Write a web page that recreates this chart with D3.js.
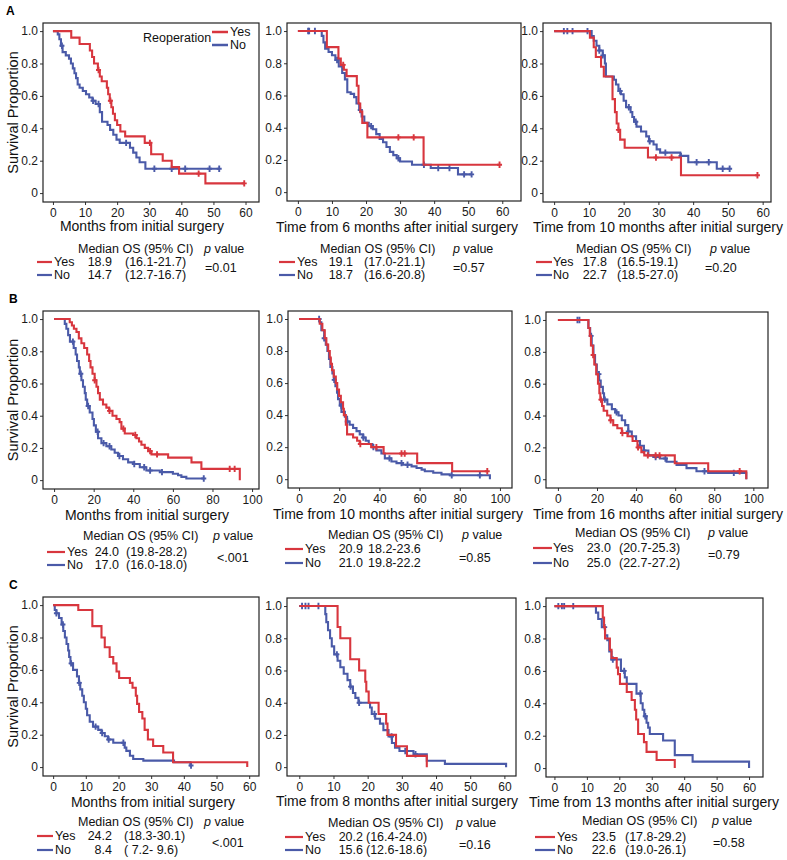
<!DOCTYPE html>
<html>
<head>
<meta charset="utf-8">
<script src="https://cdn.jsdelivr.net/npm/d3@7"></script>
<style>
  body { margin: 0; background: #fff; }
  svg { font-family: Arial, "Liberation Sans", sans-serif; }
</style>
</head>
<body>
<svg id="chart" width="787" height="860"></svg>
<script>
// ---- data: KM steps as [time, survival after the drop] ----
const yTicks = [0, 0.2, 0.4, 0.6, 0.8, 1.0]
const yTickLabels = ['0', '0.2', '0.4', '0.6', '0.8', '1.0']
const xTicks60 = [0, 10, 20, 30, 40, 50, 60]
const xTicks100 = [0, 20, 40, 60, 80, 100]

// A1
const a1Yes = [[5.7,0.96],[8.3,0.92],[11.5,0.88],[12.2,0.84],[12.8,0.80],[14,0.76],[14.6,0.72],[15.2,0.69],[16.8,0.65],[17.2,0.61],[17.7,0.57],[18.2,0.53],[18.7,0.49],[19.3,0.45],[20,0.42],[21,0.38],[22.5,0.35],[28.6,0.31],[30.6,0.24],[34.2,0.20],[37,0.16],[39.3,0.12],[47.5,0.06]]
const a1YesEnd = 59.6, a1YesCens = [14.2, 17.9, 30.2, 45.4, 59.6]
const a1No = [[1.5,0.98],[2,0.95],[2.5,0.91],[3,0.87],[4,0.85],[5,0.83],[5.6,0.80],[6.2,0.77],[6.7,0.74],[7.2,0.71],[7.7,0.67],[8.3,0.65],[9.3,0.63],[10.3,0.61],[11.3,0.59],[12.3,0.57],[13.3,0.55],[14.6,0.50],[15.3,0.44],[17,0.42],[17.8,0.39],[18.8,0.36],[19.8,0.33],[20.8,0.31],[24,0.28],[25,0.25],[26,0.22],[27,0.19],[28.8,0.15]]
const a1NoEnd = 51.8, a1NoCens = [2.8, 12.5, 14.2, 22.8, 31.6, 37, 41.2, 48.8, 51.8]
// A2
const a2Yes = [[8.5,0.90],[11.9,0.83],[12.6,0.79],[13.5,0.76],[14.3,0.72],[17.3,0.66],[17.8,0.55],[18.3,0.50],[18.9,0.43],[20.4,0.34],[36.9,0.17]]
const a2YesEnd = 59.2, a2YesCens = [13.3, 29.5, 34, 59.2]
const a2No = [[7,0.97],[7.5,0.93],[8,0.89],[9,0.87],[10,0.85],[11,0.82],[12,0.78],[13,0.74],[13.8,0.70],[14.5,0.62],[15.5,0.61],[16.5,0.59],[17.2,0.55],[18,0.51],[18.7,0.47],[19.5,0.43],[20.8,0.41],[22,0.39],[23,0.36],[24,0.33],[25,0.31],[26,0.28],[27,0.25],[28,0.23],[29,0.21],[30,0.19],[33.5,0.17],[39,0.15],[47,0.11]]
const a2NoEnd = 51, a2NoCens = [3, 3.3, 5, 11.5, 18.3, 21.5, 29.5, 37, 41.2, 44.5, 48.8, 51]
// A3
const a3Yes = [[10.3,0.96],[11.4,0.90],[12,0.84],[13.5,0.78],[14.3,0.72],[16.8,0.58],[17.5,0.50],[18,0.43],[18.5,0.39],[19,0.33],[20.3,0.28],[27,0.22],[36.5,0.11]]
const a3YesEnd = 58.5, a3YesCens = [18.5, 29.3, 33.8, 58.5]
const a3No = [[10.8,0.97],[11.4,0.94],[12.2,0.91],[13,0.88],[14,0.85],[14.6,0.80],[14.9,0.72],[17.2,0.70],[17.8,0.67],[18.5,0.63],[19.2,0.61],[20,0.57],[20.7,0.53],[22,0.50],[22.5,0.47],[23,0.44],[23.7,0.41],[25,0.38],[26.5,0.35],[27.3,0.32],[28.6,0.30],[29.5,0.27],[30.5,0.25],[36.3,0.23],[38.6,0.19],[46.8,0.15]]
const a3NoEnd = 50.5, a3NoCens = [2.8, 3.8, 5.3, 9.6, 13, 14, 19, 21.5, 23.5, 27.5, 32, 36.5, 41, 44.5, 48.5, 50.5]
// B1
const b1Yes = [[7.9,0.98],[9,0.96],[10,0.94],[11.3,0.92],[12.5,0.88],[13.8,0.85],[15.2,0.82],[16.7,0.78],[17.7,0.74],[18.4,0.70],[19.4,0.66],[20.5,0.62],[21.4,0.58],[22.2,0.54],[23.1,0.50],[24.7,0.47],[26.4,0.45],[27.8,0.43],[29.5,0.40],[31.5,0.38],[33.1,0.36],[34,0.32],[35.7,0.29],[39.9,0.28],[41.6,0.26],[42.9,0.24],[44.1,0.22],[45.8,0.20],[47.5,0.18],[49.2,0.16],[57.6,0.14],[69.4,0.11],[74.4,0.07],[93.8,0]]
const b1YesEnd = 93.8, b1YesCens = [20.5, 28, 35, 41, 48.5, 52, 88.7, 91.2]
const b1No = [[5.4,0.97],[6.2,0.94],[7.1,0.90],[8,0.86],[9.9,0.82],[10.9,0.78],[11.6,0.74],[12.5,0.70],[13,0.66],[13.8,0.62],[14.6,0.58],[15.5,0.54],[16,0.50],[16.7,0.46],[18,0.42],[19.4,0.38],[20.1,0.34],[21.1,0.30],[22.2,0.26],[23.9,0.23],[26.4,0.21],[28.9,0.19],[30.6,0.17],[32.3,0.15],[34.8,0.13],[37.4,0.11],[39.9,0.10],[43.3,0.08],[46.6,0.06],[53.4,0.05],[60,0.04],[62.6,0.03],[64.3,0.02],[66.8,0.01]]
const b1NoEnd = 75.6, b1NoCens = [9.5, 13.5, 17.2, 22, 25, 28, 33, 40.5, 45.5, 48.5, 54.5, 75.6]
// B2
const b2Yes = [[10.3,0.97],[11.6,0.93],[12.8,0.88],[13.6,0.84],[14.5,0.80],[15.3,0.76],[15.8,0.72],[16.4,0.68],[17.3,0.64],[18.3,0.60],[19,0.56],[19.9,0.52],[20.8,0.48],[21.9,0.44],[22.3,0.40],[23.3,0.34],[23.9,0.28],[26.9,0.26],[28.9,0.24],[30.2,0.22],[35.9,0.20],[42.1,0.16],[58.8,0.10],[76.2,0.05]]
const b2YesEnd = 93.7, b2YesCens = [30.5, 38.5, 51, 52.6, 93.7]
const b2No = [[10.3,0.98],[11.1,0.93],[12.5,0.88],[13.3,0.84],[14.1,0.80],[14.9,0.75],[15.6,0.70],[16.6,0.66],[17.3,0.62],[18.1,0.58],[18.9,0.54],[19.4,0.50],[20.3,0.46],[21.1,0.42],[22.8,0.39],[23.9,0.36],[25.2,0.34],[26.9,0.32],[28.6,0.30],[30.2,0.28],[31.9,0.26],[33.2,0.24],[34.7,0.22],[36.5,0.20],[38.5,0.18],[41,0.16],[42.7,0.13],[46,0.11],[48.5,0.10],[51.8,0.09],[56,0.08],[58.5,0.07],[61,0.06],[62.6,0.05],[66.8,0.04],[70.9,0.03],[75,0.025],[95,0]]
const b2NoEnd = 95, b2NoCens = [10, 12.5, 17.5, 21, 24, 32, 37, 45, 51, 54, 76, 90]
// B3
const b3Yes = [[15.6,0.95],[16.3,0.90],[16.9,0.84],[17.9,0.78],[18.6,0.72],[19.6,0.66],[20.5,0.60],[21.2,0.54],[21.7,0.50],[22.6,0.46],[23.4,0.43],[25.2,0.40],[26.9,0.37],[28.3,0.34],[30.4,0.32],[32.7,0.29],[35.6,0.27],[38.2,0.24],[40.7,0.20],[42.7,0.17],[44.2,0.15],[59.8,0.10],[76.9,0.05],[96.4,0]]
const b3YesEnd = 96.4, b3YesCens = [18, 22, 27, 33, 41, 46, 50, 52, 93]
const b3No = [[15.6,0.95],[16.5,0.90],[17.3,0.84],[18.2,0.78],[19,0.72],[19.9,0.66],[21.1,0.62],[21.9,0.58],[23,0.54],[23.6,0.50],[25.3,0.47],[27.6,0.44],[29.3,0.42],[31,0.40],[32.7,0.37],[34.4,0.34],[36,0.30],[37.8,0.27],[40,0.24],[42,0.21],[44,0.18],[46.3,0.15],[48.8,0.14],[52.2,0.13],[55.6,0.11],[60.7,0.09],[65.8,0.07],[70.9,0.05],[76.9,0.04],[96.4,0]]
const b3NoEnd = 96.4, b3NoCens = [10, 11, 17, 21, 24, 30, 36, 44, 50, 55, 75, 90]
// C1
const c1Yes = [[7.7,0.97],[12,0.87],[14.8,0.80],[15.8,0.74],[17.3,0.68],[18.4,0.64],[19.4,0.59],[20.2,0.55],[23.5,0.52],[24.3,0.49],[25.3,0.44],[25.7,0.39],[26.3,0.34],[27.3,0.30],[28,0.23],[29,0.17],[30.6,0.13],[33.7,0.09],[36.7,0.03],[59.4,0]]
const c1YesEnd = 59.4, c1YesCens = []
const c1No = [[0.5,0.97],[1,0.95],[1.8,0.92],[2.6,0.88],[3.1,0.84],[3.6,0.80],[4.1,0.76],[4.6,0.72],[4.9,0.68],[5.3,0.64],[6.1,0.60],[7.3,0.56],[7.9,0.52],[8.3,0.48],[8.9,0.44],[9.4,0.40],[10,0.36],[10.4,0.32],[11.2,0.28],[12.2,0.25],[13.8,0.23],[14.8,0.21],[15.8,0.19],[16.8,0.17],[18.4,0.15],[21.9,0.12],[22.4,0.10],[23.5,0.07],[24.5,0.05],[27.6,0.04],[37,0.03],[42,0.01]]
const c1NoEnd = 42.2, c1NoCens = [1, 3, 5.5, 8, 13, 15, 17, 21.5, 42.2]
// C2
const c2Yes = [[11.2,0.87],[12,0.80],[14.9,0.67],[17.5,0.60],[19.3,0.53],[19.6,0.47],[20.3,0.40],[23.2,0.33],[25.4,0.27],[25.8,0.20],[28.3,0.13],[31.5,0.07],[37.3,0]]
const c2YesEnd = 37.3, c2YesCens = []
const c2No = [[7.6,0.95],[7.9,0.90],[8.4,0.85],[9,0.80],[9.5,0.75],[10.2,0.70],[11.2,0.66],[12,0.62],[13,0.58],[14.1,0.54],[14.9,0.50],[15.7,0.46],[16.4,0.43],[17.3,0.40],[20.7,0.37],[21.2,0.33],[22.2,0.30],[23.6,0.27],[24.6,0.23],[26.1,0.19],[27.1,0.15],[28,0.12],[29.3,0.10],[33.4,0.08],[37.3,0.04],[42.6,0.02],[60.5,0]]
const c2NoEnd = 60.5, c2NoCens = [0.8, 1.8, 2.7, 5.6, 11, 15, 17.5, 22, 27, 31, 34]
// C3
const c3Yes = [[14.9,0.93],[15.3,0.87],[15.6,0.80],[17.1,0.73],[17.6,0.68],[19.2,0.62],[19.6,0.58],[20.2,0.52],[22.3,0.47],[23.8,0.42],[24.8,0.36],[25.2,0.30],[25.8,0.21],[27.6,0.16],[28.4,0.10],[31.5,0.05],[37.1,0]]
const c3YesEnd = 37.1, c3YesCens = []
const c3No = [[12.8,0.96],[13.5,0.92],[14.6,0.87],[15.6,0.82],[16.3,0.79],[16.9,0.72],[17.6,0.67],[20.5,0.60],[21.7,0.56],[22.3,0.52],[25.3,0.46],[26.6,0.40],[27.2,0.36],[27.7,0.32],[28.4,0.28],[28.9,0.25],[29.4,0.21],[33.5,0.17],[37.1,0.08],[42.6,0.04],[60,0]]
const c3NoEnd = 60, c3NoCens = [1.2, 2.3, 3, 5.8, 15.5, 18, 21.5, 26.5, 28]

// text tables
const xTitles = ['Months from initial surgery', 'Time from 6 months after initial surgery', 'Time from 10 months after initial surgery',
  'Months from initial surgery', 'Time from 10 months after initial surgery', 'Time from 16 months after initial surgery',
  'Months from initial surgery', 'Time from 8 months after initial surgery', 'Time from 13 months after initial surgery']
const medYes = ['18.9', '19.1', '17.8', '24.0', '20.9', '23.0', '24.2', '20.2', '23.5']
const ciYes = ['(16.1-21.7)', '(17.0-21.1)', '(16.5-19.1)', '(19.8-28.2)', '18.2-23.6', '(20.7-25.3)', '(18.3-30.1)', '(16.4-24.0)', '(17.8-29.2)']
const medNo = ['14.7', '18.7', '22.7', '17.0', '21.0', '25.0', '8.4', '15.6', '22.6']
const ciNo = ['(12.7-16.7)', '(16.6-20.8)', '(18.5-27.0)', '(16.0-18.0)', '19.8-22.2', '(22.7-27.2)', '( 7.2- 9.6)', '(12.6-18.6)', '(19.0-26.1)']
const pValues = ['=0.01', '=0.57', '=0.20', '<.001', '=0.85', '=0.79', '<.001', '=0.16', '=0.58']
const panelLetters = ['A', 'B', 'C']

const RED = '#d8363e', BLUE = '#4a5aa8'

// layout per panel: plot box [x0,x1,y0,y1], x domain, title centre, stats positions
const panels = [
  { yes: [a1Yes, a1YesEnd, a1YesCens], no: [a1No, a1NoEnd, a1NoCens], box: [43, 259, 23, 202], xd: [-3.1, 64.2], ticks: xTicks60, tx: 142, ty: 226,
    st: { head: 78, pv: 204, l0: 37, l1: 52, lab: 54, med: 112, ci: 125, p: 205, hy: 249, yy: 262, ny: 275, py: 268 } },
  { yes: [a2Yes, a2YesEnd, a2YesCens], no: [a2No, a2NoEnd, a2NoCens], box: [287, 521, 23, 201], xd: [-3.2, 65.5], ticks: xTicks60, tx: 397, ty: 227,
    st: { head: 320, pv: 453, l0: 279, l1: 295, lab: 297, med: 353, ci: 364, p: 453, hy: 249, yy: 262, ny: 275, py: 268 } },
  { yes: [a3Yes, a3YesEnd, a3YesCens], no: [a3No, a3NoEnd, a3NoCens], box: [543, 771, 23, 202], xd: [-3.2, 62.4], ticks: xTicks60, tx: 658, ty: 227,
    st: { head: 576, pv: 710, l0: 536, l1: 552, lab: 553, med: 607, ci: 617, p: 705, hy: 249, yy: 262, ny: 275, py: 268 } },
  { yes: [b1Yes, b1YesEnd, b1YesCens], no: [b1No, b1NoEnd, b1NoCens], box: [43, 259, 311, 489], xd: [-5.6, 103.5], ticks: xTicks100, tx: 147, ty: 515,
    st: { head: 83, pv: 213, l0: 47, l1: 65, lab: 67, med: 119, ci: 126, p: 217, hy: 536, yy: 552, ny: 565, py: 558 } },
  { yes: [b2Yes, b2YesEnd, b2YesCens], no: [b2No, b2NoEnd, b2NoCens], box: [288, 512, 311, 488], xd: [-5.5, 106], ticks: xTicks100, tx: 398, ty: 514,
    st: { head: 328, pv: 462, l0: 285, l1: 303, lab: 305, med: 363, ci: 368, p: 459, hy: 535, yy: 549, ny: 563, py: 558 } },
  { yes: [b3Yes, b3YesEnd, b3YesCens], no: [b3No, b3NoEnd, b3NoCens], box: [546, 768, 312, 488], xd: [-6.1, 107.5], ticks: xTicks100, tx: 658, ty: 514,
    st: { head: 575, pv: 708, l0: 533, l1: 552, lab: 553, med: 611, ci: 619, p: 708, hy: 533, yy: 548, ny: 563, py: 555 } },
  { yes: [c1Yes, c1YesEnd, c1YesCens], no: [c1No, c1NoEnd, c1NoCens], box: [43, 259, 597, 776], xd: [-3.1, 63], ticks: xTicks60, tx: 153, ty: 802,
    st: { head: 78, pv: 204, l0: 37, l1: 53, lab: 55, med: 112, ci: 124, p: 212, hy: 822, yy: 836, ny: 850, py: 843 } },
  { yes: [c2Yes, c2YesEnd, c2YesCens], no: [c2No, c2NoEnd, c2NoCens], box: [287, 516, 598, 776], xd: [-3.6, 63.4], ticks: xTicks60, tx: 397, ty: 801,
    st: { head: 328, pv: 456, l0: 285, l1: 303, lab: 305, med: 363, ci: 366, p: 459, hy: 823, yy: 837, ny: 850, py: 845 } },
  { yes: [c3Yes, c3YesEnd, c3YesCens], no: [c3No, c3NoEnd, c3NoCens], box: [546, 763, 598, 777], xd: [-2.6, 64.3], ticks: xTicks60, tx: 654, ty: 802,
    st: { head: 582, pv: 712, l0: 535, l1: 555, lab: 557, med: 616, ci: 625, p: 713, hy: 821, yy: 837, ny: 850, py: 843 } }
]

const svg = d3.select('#chart')

function survAt (steps, t) {
  let s = 1
  for (const [st, sv] of steps) { if (st <= t) s = sv; else break }
  return s
}

function stepPoints (steps, end) {
  const pts = [[0, 1]]
  let prev = 1
  steps.forEach(([t, s]) => { pts.push([t, prev], [t, s]); prev = s })
  if (end > pts[pts.length - 1][0]) pts.push([end, prev])
  return pts
}

function drawCurve (g, x, y, series, color) {
  const [steps, end, cens] = series
  const line = d3.line().x(d => x(d[0])).y(d => y(d[1]))
  g.append('path')
    .datum(stepPoints(steps, end))
    .attr('d', line)
    .attr('fill', 'none')
    .attr('stroke', color)
    .attr('stroke-width', 2.1)
  // censor marks: small crosses
  g.selectAll(null).data(cens).enter().append('path')
    .attr('d', d => {
      const cx = x(d), cy = y(survAt(steps, d))
      return `M${cx - 2.5},${cy}H${cx + 2.5}M${cx},${cy - 3.2}V${cy + 3.2}`
    })
    .attr('stroke', color)
    .attr('stroke-width', 1.9)
}

panels.forEach((p, i) => {
  const [x0, x1, y0, y1] = p.box
  const x = d3.scaleLinear().domain(p.xd).range([x0, x1])
  const y = d3.scaleLinear().domain([-0.055, 1.05]).range([y1, y0])
  const g = svg.append('g')

  const yAxis = g.append('g')
    .attr('transform', `translate(${x0},0)`)
    .call(d3.axisLeft(y).tickValues(yTicks).tickFormat((d, k) => yTickLabels[k]).tickSize(3).tickPadding(2))
  const xAxis = g.append('g')
    .attr('transform', `translate(0,${y1})`)
    .call(d3.axisBottom(x).tickValues(p.ticks).tickFormat(d3.format('d')).tickSize(3).tickPadding(3))
  ;[yAxis, xAxis].forEach(a => {
    a.select('.domain').remove()
    a.attr('font-size', 12).attr('font-family', null)
    a.selectAll('text').attr('fill', '#1a1a1a')
    a.selectAll('line').attr('stroke', '#333')
  })

  drawCurve(g, x, y, p.no, BLUE)
  drawCurve(g, x, y, p.yes, RED)

  g.append('rect')
    .attr('x', x0).attr('y', y0).attr('width', x1 - x0).attr('height', y1 - y0)
    .attr('fill', 'none').attr('stroke', '#222').attr('stroke-width', 1.2)

  // x-axis title
  g.append('text').attr('x', p.tx).attr('y', p.ty).attr('text-anchor', 'middle')
    .attr('dominant-baseline', 'central').attr('font-size', 14).attr('fill', '#111').text(xTitles[i])

  // y-axis title on the first column
  if (i % 3 === 0) {
    g.append('text')
      .attr('transform', `translate(13,${(y0 + y1) / 2}) rotate(-90)`)
      .attr('text-anchor', 'middle').attr('dominant-baseline', 'central')
      .attr('font-size', 14.5).attr('fill', '#111').text('Survival Proportion')
    g.append('text').attr('x', i === 0 ? 6 : 9).attr('y', y0 - 12)
      .attr('font-size', 12).attr('font-weight', 'bold').attr('dominant-baseline', 'central')
      .text(panelLetters[i / 3])
  }

  // median OS table
  const s = p.st
  const t = g.append('g').attr('font-size', 12.5).attr('fill', '#111').attr('dominant-baseline', 'central')
  t.append('text').attr('x', s.head).attr('y', s.hy).text('Median OS (95% CI)')
  const pv = t.append('text').attr('x', s.pv).attr('y', s.hy)
  pv.append('tspan').attr('font-style', 'italic').text('p')
  pv.append('tspan').text(' value')
  ;[[RED, 'Yes', medYes[i], ciYes[i], s.yy], [BLUE, 'No', medNo[i], ciNo[i], s.ny]].forEach(([c, lab, m, ci, yy]) => {
    t.append('line').attr('x1', s.l0).attr('x2', s.l1).attr('y1', yy).attr('y2', yy)
      .attr('stroke', c).attr('stroke-width', 2.2)
    t.append('text').attr('x', s.lab).attr('y', yy).text(lab)
    t.append('text').attr('x', s.med).attr('y', yy).attr('text-anchor', 'end').text(m)
    t.append('text').attr('x', s.ci).attr('y', yy).style('white-space', 'pre').text(ci)
  })
  t.append('text').attr('x', s.p).attr('y', s.py).text(pValues[i])
})

// legend inside panel A1
const leg = svg.append('g').attr('font-size', 12.5).attr('fill', '#111').attr('dominant-baseline', 'central')
leg.append('text').attr('x', 143).attr('y', 38).text('Reoperation')
;[[RED, 'Yes', 32], [BLUE, 'No', 45]].forEach(([c, lab, yy]) => {
  leg.append('line').attr('x1', 212).attr('x2', 228).attr('y1', yy).attr('y2', yy).attr('stroke', c).attr('stroke-width', 2.5)
  leg.append('text').attr('x', 230).attr('y', yy).text(lab)
})
</script>
</body>
</html>
